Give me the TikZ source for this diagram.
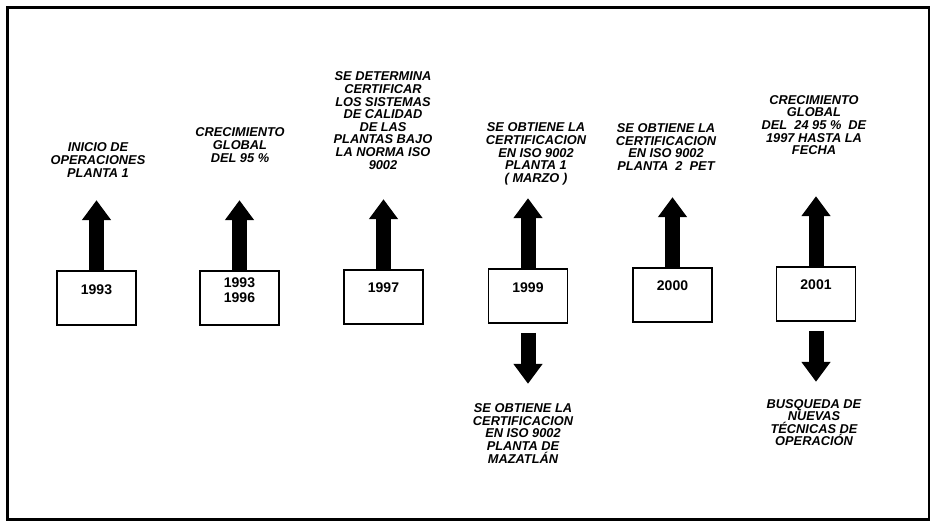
\documentclass[tikz,border=0pt]{standalone}
\usepackage{fontspec}
\setmainfont{Liberation Sans}
\usetikzlibrary{arrows.meta}
\usetikzlibrary{positioning}
\tikzset{x=1pt, y=-1pt, >={Triangle[width=28pt,length=20pt]}, font=\fontsize{12}{12.5}\selectfont}
\tikzstyle{yearbox} = [draw, line width=1.6pt, fill=white, rectangle, minimum width=79pt, minimum height=54pt, inner sep=0pt]
\tikzstyle{yeartext} = [font=\fontsize{14}{15}\selectfont\bfseries, anchor=north, inner sep=0pt, align=center]
\tikzstyle{event} = [font=\fontsize{12.8}{12.6}\selectfont\bfseries\itshape, align=center, inner sep=0pt]
\tikzstyle{bigarrow} = [->, line width=15pt]

\begin{document}
\begin{tikzpicture}
		\useasboundingbox (0,0) rectangle (930,527);
		\draw [line width=3pt] (7,8) rectangle (929,519);

		\node [yearbox] (y1) at (96.5,298) {};
		\node [yearbox] (y2) at (239.5,298) {};
		\node [yearbox] (y3) at (383.5,297) {};
		\node [yearbox] (y4) at (528,296) {};
		\node [yearbox] (y5) at (672.5,295) {};
		\node [yearbox] (y6) at (816,294) {};

		\node [yeartext] (n1) at ([yshift=-14pt]y1.north) {1993};
		\node [yeartext] (n2) at ([yshift=-7pt]y2.north) {1993\\1996};
		\node [yeartext] (n3) at ([yshift=-13pt]y3.north) {1997};
		\node [yeartext] (n4) at ([yshift=-14pt]y4.north) {1999};
		\node [yeartext] (n5) at ([yshift=-13pt]y5.north) {2000};
		\node [yeartext] (n6) at ([yshift=-13pt]y6.north) {2001};

		\node [event] (e1) at (98,160) {INICIO DE\\OPERACIONES\\PLANTA 1};
		\node [event] (e2) at (240,145) {CRECIMIENTO\\GLOBAL\\DEL 95 \%};
		\node [event] (e3) at (383,120.5) {SE DETERMINA\\CERTIFICAR\\LOS SISTEMAS\\DE CALIDAD\\DE LAS\\PLANTAS BAJO\\LA NORMA ISO\\9002};
		\node [event] (e4) at (536,154) {SE OBTIENE LA\\CERTIFICACION\\EN ISO 9002\\PLANTA 1\\( MARZO )};
		\node [event] (e5) at (666,147) {SE OBTIENE LA\\CERTIFICACION\\EN ISO 9002\\PLANTA\ \ 2\ \ PET};
		\node [event] (e6) at (814,125) {CRECIMIENTO\\GLOBAL\\DEL\ \ 24 95 \%\ \ DE\\1997 HASTA LA\\FECHA};
		\node [event] (e7) at (523,433.5) {SE OBTIENE LA\\CERTIFICACION\\EN ISO 9002\\PLANTA DE\\MAZATLÁN};
		\node [event] (e8) at (814,422.5) {BUSQUEDA DE\\NUEVAS\\TÉCNICAS DE\\OPERACIÓN};

		\draw [bigarrow] (y1.north) -- ++(0,-70);
		\draw [bigarrow] (y2.north) -- ++(0,-70);
		\draw [bigarrow] (y3.north) -- ++(0,-70);
		\draw [bigarrow] (y4.north) -- ++(0,-70);
		\draw [bigarrow] (y5.north) -- ++(0,-70);
		\draw [bigarrow] (y6.north) -- ++(0,-70);
		\draw [bigarrow, shorten <=9pt] (y4.south) -- ++(0,60);
		\draw [bigarrow, shorten <=9pt] (y6.south) -- ++(0,60);
	\end{tikzpicture}
\end{document}
